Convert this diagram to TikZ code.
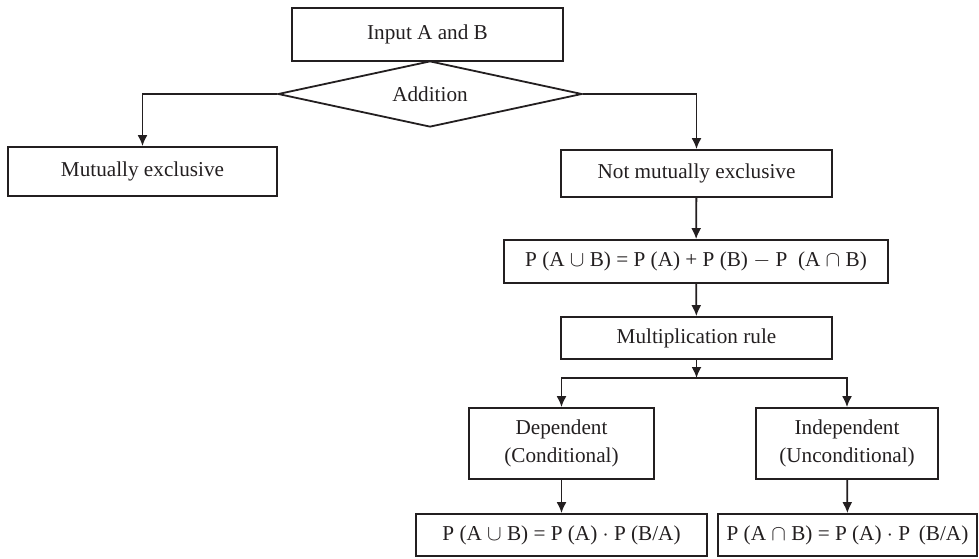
\documentclass[tikz,border=0pt]{standalone}
\usepackage{fontspec}
\setmainfont{Liberation Serif}
\usepackage{tikz}
\usetikzlibrary{shapes.geometric, arrows.meta, positioning, calc}
\definecolor{InkBlack}{HTML}{231F20}

\tikzset{
  flowbox/.style={draw=InkBlack, line width=0.9pt, inner sep=0pt, align=center,
                  text=InkBlack, font=\fontsize{10.6}{14}\selectfont},
  decide/.style={flowbox, diamond, aspect=4.6},
  link/.style={draw=InkBlack, line width=0.9pt, -{Latex[length=5.5pt,width=5pt]}}
}

\begin{document}
\begin{tikzpicture}[x=0.5pt, y=-0.5pt]
  \useasboundingbox (0,0) rectangle (979,558);

  \node[flowbox, minimum width=135.5pt, minimum height=26.5pt] (input) at (427.5,34.5) {Input A and B};
  \node[decide, minimum width=152pt, minimum height=33pt] (addition) at (430,94) {Addition};

  \node[flowbox, minimum width=134.5pt, minimum height=24.5pt] (mutex) at (142.5,171.5) {Mutually exclusive};
  \node[flowbox, minimum width=135.5pt, minimum height=23.5pt] (notmutex) at (696.5,173.5) {Not mutually exclusive};

  \node[flowbox, minimum width=192pt, minimum height=21.5pt] (addrule) at (696,261.5)
    {P (A $\cup$ B) = P (A) + P (B) $-$ P\ \ (A $\cap$ B)};
  \node[flowbox, minimum width=135.5pt, minimum height=21pt] (multrule) at (696.5,338) {Multiplication rule};

  \node[flowbox, minimum width=92.5pt, minimum height=35.5pt] (dependent) at (561.5,443.5) {Dependent\\(Conditional)};
  \node[flowbox, minimum width=91pt, minimum height=35.5pt] (independent) at (847,443.5) {Independent\\(Unconditional)};

  \node[flowbox, minimum width=145.5pt, minimum height=21pt] (depformula) at (561.5,535)
    {P (A $\cup$ B) = P (A) $\cdot$ P (B/A)};
  \node[flowbox, minimum width=129.5pt, minimum height=21pt] (indformula) at (847.5,535)
    {P (A $\cap$ B) = P (A) $\cdot$ P\, (B/A)};

  \coordinate (split) at (696.5,378);

  % connectors
  \draw[link] (addition.west) -| (mutex.north);
  \draw[link] (addition.east) -| (notmutex.north);
  \draw[link] (notmutex) -- (addrule);
  \draw[link] (addrule) -- (multrule);
  \draw[link] (multrule) -- (split);
  \draw[link] (split) -| (dependent.north);
  \draw[link] (split) -| (independent.north);
  \draw[link] (dependent) -- (depformula);
  \draw[link] (independent) -- (indformula);
\end{tikzpicture}
\end{document}
